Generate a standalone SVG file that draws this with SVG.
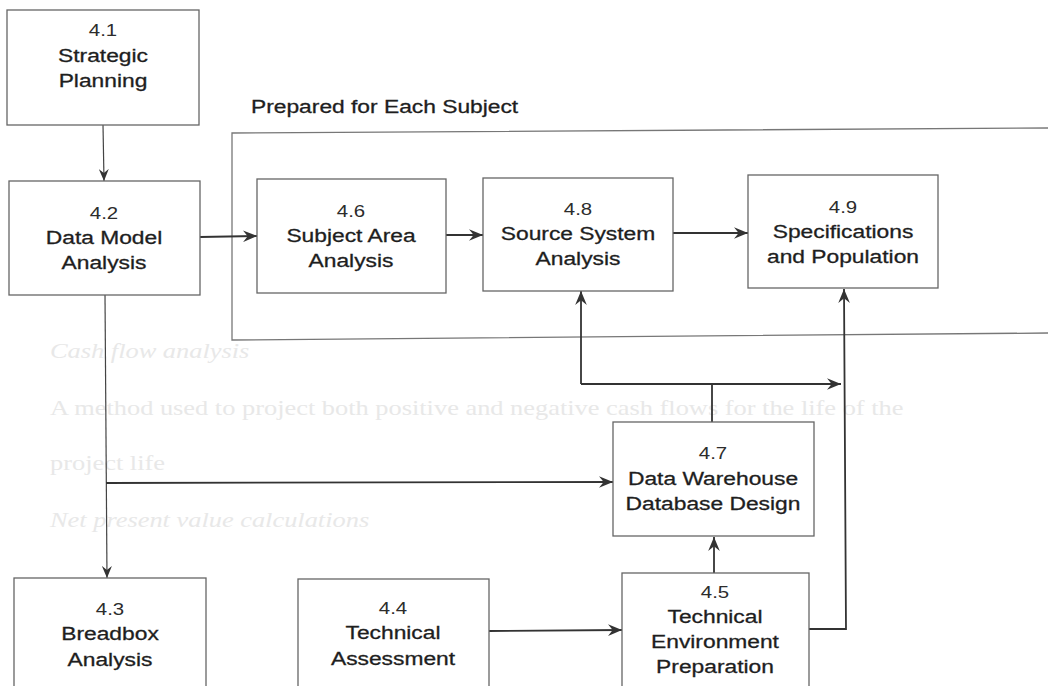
<svg xmlns="http://www.w3.org/2000/svg" width="1048" height="686" viewBox="0 0 1048 686">
  <style>
    .box { fill: none; stroke: #666; stroke-width: 1.3; }
    .frame { fill: none; stroke: #777; stroke-width: 1.3; }
    .num { font-family: "Liberation Sans", Arial, sans-serif; font-size: 17px; fill: #2c2c2c; text-anchor: middle; }
    .lbl { font-family: "Liberation Sans", Arial, sans-serif; font-size: 19px; fill: #1e1e1e; stroke: #1e1e1e; stroke-width: 0.3; text-anchor: middle; }
    .cap { font-family: "Liberation Sans", Arial, sans-serif; font-size: 19px; fill: #1e1e1e; stroke: #1e1e1e; stroke-width: 0.3; }
    .wire { fill: none; stroke: #333; stroke-width: 1.8; }
    .thin { fill: none; stroke: #444; stroke-width: 1.2; }
    .ghost { font-family: "Liberation Serif", "Times New Roman", serif; font-size: 22px; fill: #e8e8e8; }
    .ghost-i { font-family: "Liberation Serif", "Times New Roman", serif; font-size: 22px; font-style: italic; fill: #e8e8e8; }
  </style>
  <defs>
    <marker id="arrow" viewBox="0 0 12 10" refX="12" refY="5" markerUnits="userSpaceOnUse" markerWidth="14" markerHeight="12" orient="auto">
      <path d="M0,0 L12,5 L0,10 L4,5 z" fill="#333"/>
    </marker>
    <marker id="arrow-s" viewBox="0 0 12 10" refX="12" refY="5" markerUnits="userSpaceOnUse" markerWidth="12" markerHeight="10" orient="auto">
      <path d="M0,0 L12,5 L0,10 L4,5 z" fill="#333"/>
    </marker>
  </defs>

  <rect width="1048" height="686" fill="#ffffff"/>

  <!-- faint print showing through from the facing page -->
  <g id="show-through">
    <text class="ghost-i" transform="translate(50 358) scale(1.2 1)">Cash flow analysis</text>
    <text class="ghost" transform="translate(50 415) scale(1.2 1)">A method used to project both positive and negative cash flows for the life of the</text>
    <text class="ghost" transform="translate(50 470) scale(1.2 1)">project life</text>
    <text class="ghost-i" transform="translate(50 527) scale(1.2 1)">Net present value calculations</text>
  </g>

  <!-- subject loop frame -->
  <g id="subject-frame">
    <path class="frame" d="M1050,128 L232,133 L232,340 L1050,333"/>
    <text class="cap" transform="translate(251 113) scale(1.2 1)">Prepared for Each Subject</text>
  </g>

  <!-- connectors -->
  <g id="connectors">
    <path class="thin" d="M103,125 L104,181" marker-end="url(#arrow-s)"/>
    <path class="wire" d="M200,237 L257,236" marker-end="url(#arrow)"/>
    <path class="wire" d="M446,235 L483,235" marker-end="url(#arrow)"/>
    <path class="wire" d="M673,233 L748,233" marker-end="url(#arrow)"/>
    <path class="thin" d="M105,295 L107,578" marker-end="url(#arrow-s)"/>
    <path class="wire" d="M106,483 L613,482" marker-end="url(#arrow)"/>
    <path class="wire" d="M712,422 L712,384"/>
    <path class="wire" d="M581,384 L841,384" marker-end="url(#arrow)"/>
    <path class="wire" d="M581,384 L581,291" marker-end="url(#arrow)"/>
    <path class="wire" d="M489,631 L622,630" marker-end="url(#arrow)"/>
    <path class="wire" d="M714,573 L714,537" marker-end="url(#arrow)"/>
    <path class="wire" d="M809,629 L846,629 L844,289" marker-end="url(#arrow)"/>
  </g>

  <g id="n41">
    <rect class="box" x="7" y="10" width="192" height="115"/>
    <g transform="translate(103 0) scale(1.2 1)">
      <text class="num" x="0" y="36">4.1</text>
      <text class="lbl" x="0" y="62">Strategic</text>
      <text class="lbl" x="0" y="87">Planning</text>
    </g>
  </g>

  <g id="n42">
    <rect class="box" x="9" y="181" width="191" height="114"/>
    <g transform="translate(104 0) scale(1.2 1)">
      <text class="num" x="0" y="219">4.2</text>
      <text class="lbl" x="0" y="244">Data Model</text>
      <text class="lbl" x="0" y="269">Analysis</text>
    </g>
  </g>

  <g id="n46">
    <rect class="box" x="257" y="179" width="189" height="114"/>
    <g transform="translate(351 0) scale(1.2 1)">
      <text class="num" x="0" y="217">4.6</text>
      <text class="lbl" x="0" y="242">Subject Area</text>
      <text class="lbl" x="0" y="267">Analysis</text>
    </g>
  </g>

  <g id="n48">
    <rect class="box" x="483" y="178" width="190" height="113"/>
    <g transform="translate(578 0) scale(1.2 1)">
      <text class="num" x="0" y="215">4.8</text>
      <text class="lbl" x="0" y="240">Source System</text>
      <text class="lbl" x="0" y="265">Analysis</text>
    </g>
  </g>

  <g id="n49">
    <rect class="box" x="748" y="175" width="190" height="113"/>
    <g transform="translate(843 0) scale(1.2 1)">
      <text class="num" x="0" y="213">4.9</text>
      <text class="lbl" x="0" y="238">Specifications</text>
      <text class="lbl" x="0" y="263">and Population</text>
    </g>
  </g>

  <g id="n47">
    <rect class="box" x="613" y="422" width="201" height="114"/>
    <g transform="translate(713 0) scale(1.2 1)">
      <text class="num" x="0" y="459">4.7</text>
      <text class="lbl" x="0" y="485">Data Warehouse</text>
      <text class="lbl" x="0" y="510">Database Design</text>
    </g>
  </g>

  <g id="n43">
    <rect class="box" x="14" y="578" width="192" height="120"/>
    <g transform="translate(110 0) scale(1.2 1)">
      <text class="num" x="0" y="615">4.3</text>
      <text class="lbl" x="0" y="640">Breadbox</text>
      <text class="lbl" x="0" y="666">Analysis</text>
    </g>
  </g>

  <g id="n44">
    <rect class="box" x="298" y="579" width="191" height="120"/>
    <g transform="translate(393 0) scale(1.2 1)">
      <text class="num" x="0" y="614">4.4</text>
      <text class="lbl" x="0" y="639">Technical</text>
      <text class="lbl" x="0" y="665">Assessment</text>
    </g>
  </g>

  <g id="n45">
    <rect class="box" x="622" y="573" width="187" height="125"/>
    <g transform="translate(715 0) scale(1.2 1)">
      <text class="num" x="0" y="598">4.5</text>
      <text class="lbl" x="0" y="623">Technical</text>
      <text class="lbl" x="0" y="648">Environment</text>
      <text class="lbl" x="0" y="673">Preparation</text>
    </g>
  </g>
</svg>
